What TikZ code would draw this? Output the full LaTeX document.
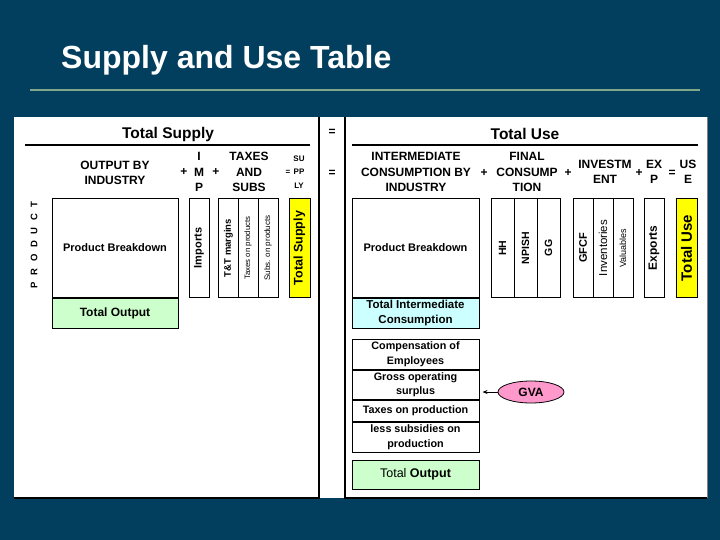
\documentclass[tikz,border=0pt]{standalone}
\usepackage{fontspec}
\setmainfont{Liberation Sans}
\usetikzlibrary{
    arrows.meta,
    positioning,
    shapes.geometric
}
\definecolor{slide}{RGB}{2,62,94}
\definecolor{titlerule}{RGB}{128,168,136}
\definecolor{outputfill}{RGB}{204,255,204}
\definecolor{icfill}{RGB}{204,255,255}
\definecolor{totalfill}{RGB}{255,255,0}
\definecolor{gvafill}{RGB}{255,153,204}
\tikzset{
    slidetitle/.style={
        font=\fontsize{32}{36}\selectfont\bfseries,
        text=white,
        inner sep=0pt
    },
    titleline/.style={
        draw=titlerule,
        line width=1.2pt
    },
    paneledge/.style={
        draw=black,
        line width=2pt
    },
    paneltitle/.style={
        font=\fontsize{15.5}{18}\selectfont\bfseries,
        inner sep=0pt
    },
    headrule/.style={
        draw=black,
        line width=1.5pt
    },
    headtext/.style={
        font=\fontsize{12}{15.5}\selectfont\bfseries,
        align=center,
        inner sep=0pt
    },
    sign/.style={
        font=\fontsize{12}{12}\selectfont\bfseries,
        inner sep=0pt
    },
    smallhead/.style={
        font=\fontsize{8}{13.5}\selectfont\bfseries,
        align=center,
        inner sep=0pt
    },
    cell/.style={
        rectangle,
        draw=black,
        line width=1pt,
        fill=white,
        text=black,
        inner sep=0pt,
        align=center
    },
    bigbox/.style={
        cell,
        minimum width=127pt
    },
    vcell/.style={
        cell,
        rotate=90,
        minimum width=98pt
    },
    boxlabel/.style={
        font=\fontsize{11}{15}\selectfont\bfseries
    },
    rowlabel/.style={
        font=\fontsize{10.8}{14.5}\selectfont\bfseries
    },
    vbold/.style={
        font=\fontsize{#1}{#1}\selectfont\bfseries
    },
    vplain/.style={
        font=\fontsize{#1}{#1}\selectfont
    },
    gvanode/.style={
        ellipse,
        draw=black,
        line width=0.8pt,
        fill=gvafill,
        minimum width=66pt,
        minimum height=22pt,
        inner sep=0pt,
        font=\fontsize{12}{12}\selectfont\bfseries
    },
    gvaarrow/.style={
        -{Stealth[length=5pt,width=4pt]},
        draw=black,
        line width=1pt
    }
}

\begin{document}
\begin{tikzpicture}[x=1pt, y=-1pt]

% Slide background and title
\useasboundingbox (0,0) rectangle (720,540);
\fill[slide] (0,0) rectangle (720,540);
\node[slidetitle, anchor=base west] (title) at (61,69) {Supply and Use Table};
\draw[titleline] (30,90) -- (700,90);

% White panels
\fill[white] (14,117) rectangle (707,498);
\draw[paneledge] (319,117) -- (319,498) -- (14,498);
\draw[paneledge] (345,117) -- (345,498) -- (707,498);
\draw[gray, line width=0.8pt] (707,117) -- (707,498);

% === TOTAL SUPPLY (left panel) ===
\node[paneltitle] (supplytitle) at (168,134) {Total Supply};
\draw[headrule] (25,145) -- (310,145);

\node[headtext] (hOutput) at (115,173) {OUTPUT BY\\INDUSTRY};
\node[sign] (sPlusA) at (184,172) {+};
\node[headtext] (hImp) at (199,172) {I\\M\\P};
\node[sign] (sPlusB) at (216,172) {+};
\node[headtext] (hTax) at (249,172) {TAXES\\AND\\SUBS};
\node[smallhead] (sEq) at (288,172) {=};
\node[smallhead] (hSupply) at (299,172) {SU\\PP\\LY};

\node[font=\fontsize{9.5}{10}\selectfont\bfseries\addfontfeatures{LetterSpace=70},
      rotate=90, inner sep=0pt] (product) at (34,245) {PRODUCT};

\node[cell, minimum width=126pt, minimum height=98pt, boxlabel] (sPB) at (115,248) {Product Breakdown};
\node[cell, minimum width=126pt, minimum height=30pt, fill=outputfill,
      font=\fontsize{12}{15}\selectfont\bfseries, below=0pt of sPB] (sTO) {Total Output};

\node[vcell, minimum height=20pt, vbold=11] (sImp) at (199,248) {Imports};
\node[vcell, minimum height=20pt, vbold=9.5] (sTT) at (228.5,248) {T\&T margins};
\node[vcell, minimum height=20pt, vplain=7.8] (sTax) at (248,248) {Taxes on products};
\node[vcell, minimum height=20pt, vplain=8] (sSub) at (268,248) {Subs. on products};
\node[vcell, minimum height=21pt, fill=totalfill, vbold=12.5] (sTS) at (299.5,248) {Total Supply};

% === TOTAL USE (right panel) ===
\node[sign] (eqTop) at (332,132) {=};
\node[sign] (eqMid) at (332,173) {=};

\node[paneltitle] (usetitle) at (525,134) {Total Use};
\draw[headrule] (352,145) -- (698,145);

\node[headtext] (hIC) at (416,172) {INTERMEDIATE\\CONSUMPTION BY\\INDUSTRY};
\node[sign] (uPlusA) at (484,173) {+};
\node[headtext] (hFC) at (527,172) {FINAL\\CONSUMP\\TION};
\node[sign] (uPlusB) at (568,173) {+};
\node[headtext] (hInv) at (605,172) {INVESTM\\ENT};
\node[sign] (uPlusC) at (639,173) {+};
\node[headtext] (hExp) at (654,172) {EX\\P};
\node[sign] (uEq) at (672,173) {=};
\node[headtext] (hUse) at (688,172) {US\\E};

\node[bigbox, minimum height=98pt, boxlabel] (uPB) at (415.5,248) {Product Breakdown};
\node[bigbox, minimum height=30pt, fill=icfill,
      font=\fontsize{11.5}{14.5}\selectfont\bfseries, below=0pt of uPB] (uTIC) {Total Intermediate\\Consumption};

\node[vcell, minimum height=23pt, vbold=10.5] (uHH) at (502.5,248) {HH};
\node[vcell, minimum height=23pt, vbold=10.5] (uNPISH) at (525.5,248) {NPISH};
\node[vcell, minimum height=23pt, vbold=10.5] (uGG) at (548.5,248) {GG};

\node[vcell, minimum height=20pt, vbold=11] (uGFCF) at (583,248) {GFCF};
\node[vcell, minimum height=20pt, vplain=11.5] (uInv) at (603,248) {Inventories};
\node[vcell, minimum height=20pt, vplain=9] (uVal) at (623,248) {Valuables};

\node[vcell, minimum height=20pt, vbold=12] (uExp) at (654,248) {Exports};
\node[vcell, minimum height=21pt, fill=totalfill, vbold=15] (uTU) at (686.5,248) {Total Use};

% Value added rows
\node[bigbox, minimum height=30pt, rowlabel] (vCOE) at (415.5,354) {Compensation of\\Employees};
\node[bigbox, minimum height=29pt, rowlabel, below=0pt of vCOE] (vGOS) {Gross operating\\surplus};
\node[bigbox, minimum height=21pt, rowlabel, below=0pt of vGOS] (vTOP) {Taxes on production};
\node[bigbox, minimum height=30pt, rowlabel, below=0pt of vTOP] (vSUB) {less subsidies on\\production};

\node[bigbox, minimum height=29pt, fill=outputfill,
      font=\fontsize{12.5}{15}\selectfont] (vTO) at (415.5,474.5) {Total \textbf{Output}};

% GVA pointer
\node[gvanode] (gva) at (531,392) {GVA};
\draw[gvaarrow, shorten >=3pt] (gva.west) -- (gva.west -| vGOS.east);

\end{tikzpicture}
\end{document}
